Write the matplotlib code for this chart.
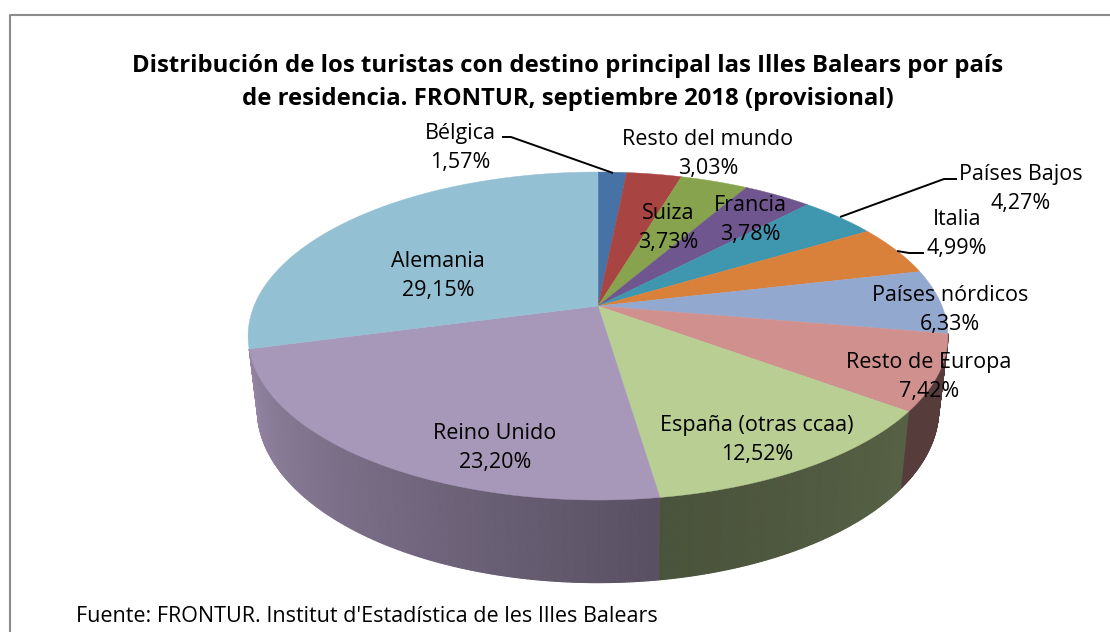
import numpy as np
import matplotlib
matplotlib.use("Agg")
import matplotlib.pyplot as plt
from matplotlib.collections import PolyCollection
from matplotlib.colors import to_rgb

# --- data ---
categories = ["Bélgica", "Resto del mundo", "Suiza", "Francia", "Países Bajos", "Italia",
              "Países nórdicos", "Resto de Europa", "España (otras ccaa)", "Reino Unido", "Alemania"]
shares = [1.57, 3.03, 3.73, 3.78, 4.27, 4.99, 6.33, 7.42, 12.52, 23.20, 29.15]
title_lines = ["Distribución de los turistas con destino principal las Illes Balears por país",
               "de residencia. FRONTUR, septiembre 2018 (provisional)"]
source = "Fuente: FRONTUR. Institut d'Estadística de les Illes Balears"

# --- style ---
top_colors = ["#4672A6", "#A84442", "#87A34D", "#6F568F", "#3F97AF", "#D9803A",
              "#93A8CF", "#CF908E", "#B8CE92", "#A797B9", "#93C0D3"]
shade_start = [.5, .5, .5, .5, .5, .5, .42, .42, .47, .53, .85]
shade_end = [.5, .5, .5, .5, .5, .5, .42, .42, .40, .88, .9]
wall_slices = [7, 8, 9]
label_xy = [(460, 131, 160), (708, 137, 166), (668, 211, 240), (750, 203, 232), (1021, 172, 201),
            (957, 217, 246), (950, 293, 322), (929, 360, 389), (757, 423, 452), (495, 431, 460),
            (438, 259, 288)]
leaders = [[(502, 137), (511, 137), (613, 173)],
           [(840, 217), (944, 179), (957, 179)],
           [(897, 251), (909, 253), (924, 253)]]
CX, TOP_Y, TOP_A, TOP_C, BOT_Y, BOT_A, BOT_C, PERSP = 598, 306, 158.5, 344, 377, 168, 335, 0.183


def project(theta, y0, a, c):
    u, v = np.sin(theta), np.cos(theta)
    d = 1 + PERSP * v
    return CX + c * u / d, y0 - a * v / d


plt.rcParams["font.family"] = ["Open Sans", "Noto Sans", "DejaVu Sans"]
fig = plt.figure(figsize=(11.10, 6.32), dpi=100, facecolor="white")
ax = fig.add_axes([0, 0, 1, 1])
ax.set_xlim(0, 1110)
ax.set_ylim(632, 0)
ax.axis("off")

ax.plot([9.5, 9.5, 1110], [632, 15, 15], color="#8C8C8C", lw=1.5, solid_capstyle="butt")

edges = np.cumsum([0] + shares) / sum(shares) * 2 * np.pi

quads, cols = [], []
for i in wall_slices:
    a0, a1 = edges[i], edges[i + 1]
    n = max(2, int(np.degrees(a1 - a0)) * 3)
    ts = np.linspace(a0, a1, n + 1)
    base = np.array(to_rgb(top_colors[i]))
    for k in range(n):
        x0, y0 = project(ts[k], TOP_Y, TOP_A, TOP_C)
        x1, y1 = project(ts[k + 1], TOP_Y, TOP_A, TOP_C)
        x2, y2 = project(ts[k + 1], BOT_Y, BOT_A, BOT_C)
        x3, y3 = project(ts[k], BOT_Y, BOT_A, BOT_C)
        quads.append([(x0, y0), (x1, y1), (x2, y2), (x3, y3)])
        f = shade_start[i] + (shade_end[i] - shade_start[i]) * (k / n)
        cols.append(base * f)
ax.add_collection(PolyCollection(quads, facecolors=cols, edgecolors=cols, linewidths=0.8))

for i in range(len(shares)):
    ts = np.linspace(edges[i], edges[i + 1], max(3, int(np.degrees(edges[i + 1] - edges[i])) * 2))
    xs, ys = project(ts, TOP_Y, TOP_A, TOP_C)
    ax.fill(np.r_[CX, xs], np.r_[TOP_Y, ys], facecolor=top_colors[i], edgecolor=top_colors[i], lw=0.3)

for pts in leaders:
    ax.plot(*zip(*pts), color="black", lw=1.4, solid_capstyle="butt")

FS = 15.5
for name, val, (x, y1, y2) in zip(categories, shares, label_xy):
    ax.text(x, y1, name, ha="center", va="center_baseline", fontsize=FS, color="black")
    ax.text(x, y2, f"{val:.2f}%".replace(".", ","), ha="center", va="center_baseline", fontsize=FS, color="black")

for line, y in zip(title_lines, (63, 96)):
    ax.text(568, y, line, ha="center", va="center_baseline", fontsize=17.2, fontweight="bold", color="black")
ax.text(76, 614, source, ha="left", va="center_baseline", fontsize=FS, color="black")

fig.savefig("out.png", dpi=100)
